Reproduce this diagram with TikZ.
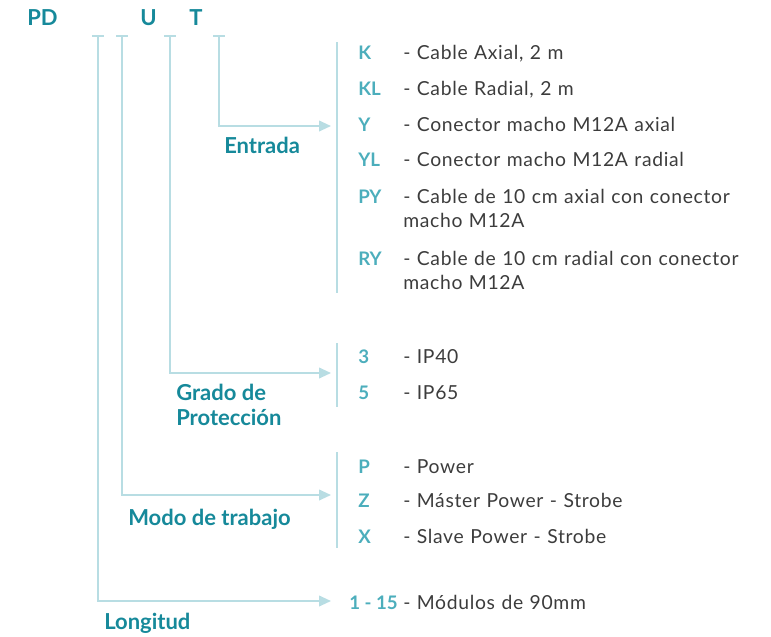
\documentclass[tikz,border=0pt]{standalone}
\usepackage{fontspec}
\setmainfont{Lato}
\newfontfamily\descfont[LetterSpace=3.5,WordSpace=1.2]{Lato}
\usepackage{tikz}
\usetikzlibrary{arrows.meta, calc}
\definecolor{tealdark}{HTML}{16899A}
\definecolor{teallight}{HTML}{4CAEBC}
\definecolor{guide}{HTML}{B8DDE3}
\definecolor{txt}{HTML}{3C3C3C}

\begin{document}
\begin{tikzpicture}[x=0.75pt,y=-0.75pt,
    guide/.style={draw=guide,line width=1.4pt},
    arr/.style={guide,-{Triangle[length=9pt,width=8pt]}},
    head/.style={anchor=base west,inner sep=0pt,text=tealdark,font=\fontsize{16.5}{19}\selectfont\bfseries},
    code/.style={anchor=base west,inner sep=0pt,text=teallight,font=\fontsize{14}{17}\selectfont\bfseries},
    desc/.style={anchor=base west,inner sep=0pt,text=txt,font=\descfont\fontsize{14.5}{18.5}\selectfont,
                 align=left,text width=350pt}]
        \useasboundingbox (0,0) rectangle (771,636);
        % code heading
        \node[head] (PD) at (27,25.5) {PD};
        \node[head] (U) at (140,25.5) {U};
        \node[head] (T) at (189,25.5) {T};
        % ticks below the code
        \foreach \n/\x in {len/98,mode/122,ip/170,inp/219} {
            \coordinate (\n) at (\x,36);
            \draw[guide] (\x-6,36) -- (\x+6,36);
        }
        % arrow targets
        \coordinate (a-inp) at (331,126);
        \coordinate (a-ip) at (331,373);
        \coordinate (a-mode) at (331,495);
        \coordinate (a-len) at (331,601);
        \draw[arr] (inp) |- (a-inp);
        \draw[arr] (ip) |- (a-ip);
        \draw[arr] (mode) |- (a-mode);
        \draw[arr] (len) |- (a-len);
        % group labels
        \node[head] (entrada) at (224,153) {Entrada};
        \node[head,align=left,anchor=north west] (grado) at (176,384) {Grado de\\[0pt]Protección};
        \node[head] (modo) at (128,525) {Modo de trabajo};
        \node[head] (longitud) at (104,629) {Longitud};
        % group bars
        \draw[guide] (337,42) coordinate (b1) -- (337,293) coordinate (b2);
        \draw[guide] (337,343) coordinate (b3) -- (337,407) coordinate (b4);
        \draw[guide] (337,452) coordinate (b5) -- (337,548) coordinate (b6);
        % entries
        \foreach \c/\t/\y [count=\i] in {
            K/{- Cable Axial, 2 m}/59,
            KL/{- Cable Radial, 2 m}/95,
            Y/{- Conector macho M12A axial}/131,
            YL/{- Conector macho M12A radial}/166,
            PY/{- Cable de 10 cm axial con conector\\macho M12A}/203,
            RY/{- Cable de 10 cm radial con conector\\macho M12A}/265,
            3/{- IP40}/363,
            5/{- IP65}/399,
            P/{- Power}/473,
            Z/{- Máster Power - Strobe}/507,
            X/{- Slave Power - Strobe}/543} {
            \node[code] (c\i) at (358,\y) {\c};
            \node[desc] (d\i) at (403,\y) {\t};
        }
        \node[code] (c12) at (349,609) {1 - 15};
        \node[desc] (d12) at (403,609) {- Módulos de 90mm};
\end{tikzpicture}
\end{document}
